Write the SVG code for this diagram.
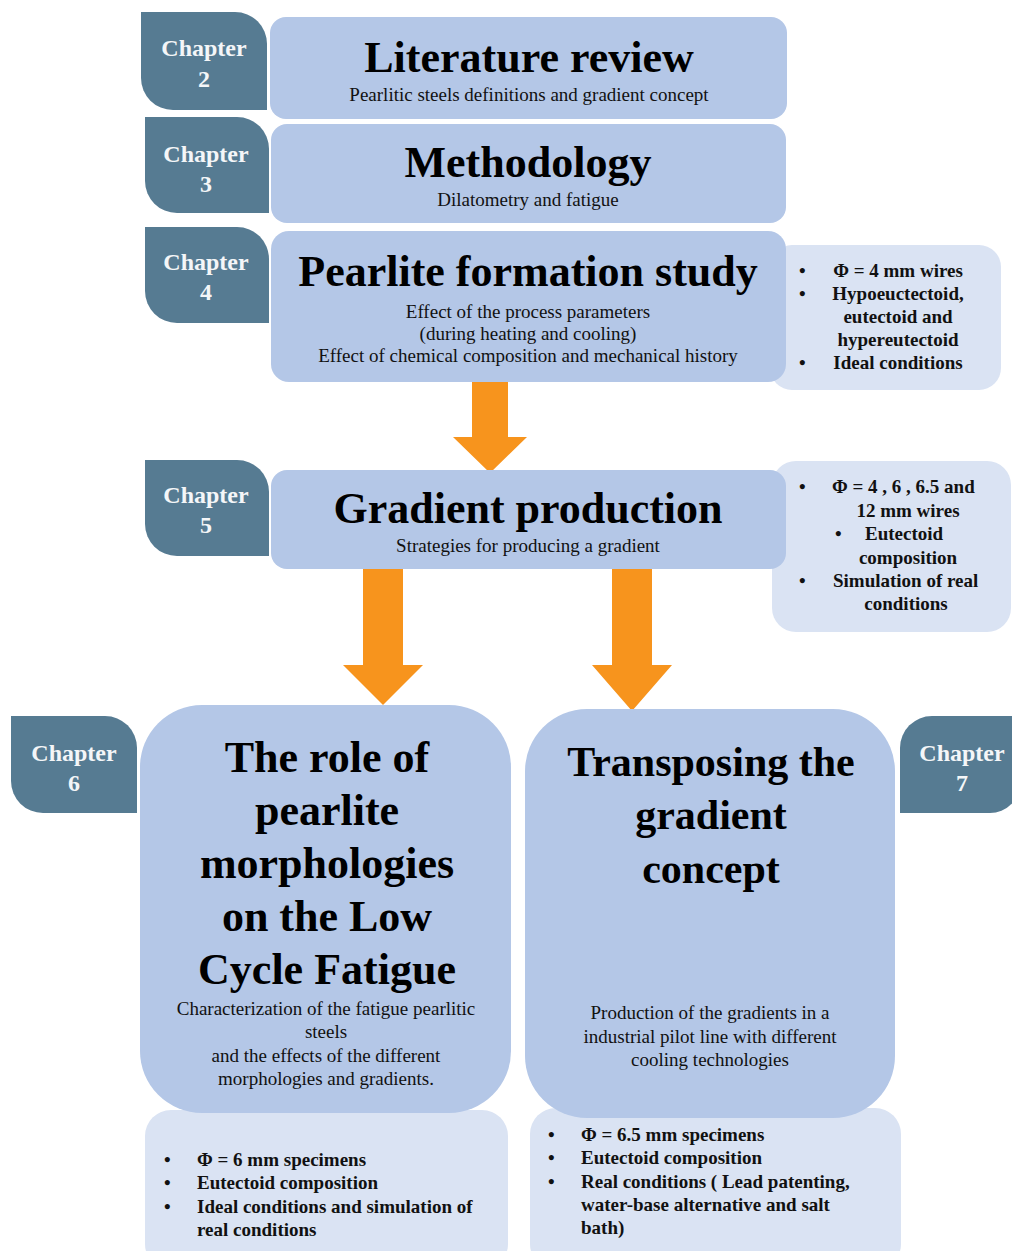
<svg xmlns="http://www.w3.org/2000/svg" width="1012" height="1251" viewBox="0 0 1012 1251">
<style>
.tab{fill:#567B92}
.main{fill:#B4C7E7}
.side{fill:#DAE3F3}
.arrow{fill:#F7941D}
.ch{font-family:"Liberation Serif",serif;font-weight:bold;font-size:24px;fill:#F4F6F8;text-anchor:middle}
.title{font-family:"Liberation Serif",serif;font-weight:bold;font-size:44px;fill:#000;text-anchor:middle}
.sub{font-family:"Liberation Serif",serif;font-size:19px;fill:#111;text-anchor:middle}
.bl{font-family:"Liberation Serif",serif;font-weight:bold;font-size:19px;fill:#111}
.blc{font-family:"Liberation Serif",serif;font-weight:bold;font-size:19px;fill:#111;text-anchor:middle}
</style>
<rect width="1012" height="1251" fill="#FFFFFF"/>

<g id="side-ch4">
<rect class="side" x="770" y="245" width="231" height="145" rx="22"/>
<text class="bl" x="799" y="277">•</text>
<text class="blc" x="898" y="277">Φ = 4 mm wires</text>
<text class="bl" x="799" y="300">•</text>
<text class="blc" x="898" y="300">Hypoeuctectoid,</text>
<text class="blc" x="898" y="323">eutectoid and</text>
<text class="blc" x="898" y="346">hypereutectoid</text>
<text class="bl" x="799" y="369">•</text>
<text class="blc" x="898" y="369">Ideal conditions</text>
</g>

<g id="side-ch5">
<rect class="side" x="772" y="461" width="239" height="171" rx="24"/>
<text class="bl" x="799" y="493">•</text>
<text class="bl" x="832" y="493">Φ = 4 , 6 , 6.5 and</text>
<text class="blc" x="908" y="517">12 mm wires</text>
<text class="bl" x="835" y="540">•</text>
<text class="bl" x="865" y="540">Eutectoid</text>
<text class="blc" x="908" y="564">composition</text>
<text class="bl" x="799" y="587">•</text>
<text class="bl" x="833" y="587">Simulation of real</text>
<text class="blc" x="906" y="610">conditions</text>
</g>

<g id="side-ch6">
<rect class="side" x="145" y="1110" width="363" height="160" rx="26"/>
<text class="bl" x="164" y="1166">•</text>
<text class="bl" x="197" y="1166">Φ = 6 mm specimens</text>
<text class="bl" x="164" y="1189">•</text>
<text class="bl" x="197" y="1189">Eutectoid composition</text>
<text class="bl" x="164" y="1213">•</text>
<text class="bl" x="197" y="1213">Ideal conditions and simulation of</text>
<text class="bl" x="197" y="1236">real conditions</text>
</g>

<g id="side-ch7">
<rect class="side" x="530" y="1108" width="371" height="162" rx="26"/>
<text class="bl" x="548" y="1141">•</text>
<text class="bl" x="581" y="1141">Φ = 6.5 mm specimens</text>
<text class="bl" x="548" y="1164">•</text>
<text class="bl" x="581" y="1164">Eutectoid composition</text>
<text class="bl" x="548" y="1188">•</text>
<text class="bl" x="581" y="1188">Real conditions ( Lead patenting,</text>
<text class="bl" x="581" y="1211">water-base alternative and salt</text>
<text class="bl" x="581" y="1234">bath)</text>
</g>

<g id="connectors">
<polygon class="arrow" points="472,382 508,382 508,437 527,437 490,473 453,437 472,437"/>
<polygon class="arrow" points="363,567 403,567 403,665 423,665 383,705 343,665 363,665"/>
<polygon class="arrow" points="612,567 652,567 652,665 672,665 632,711 592,665 612,665"/>
</g>

<g id="ch2">
<path class="tab" d="M141,12 H235 A32,32 0 0 1 267,44 V110 H173 A32,32 0 0 1 141,78 Z"/>
<text class="ch" x="204" y="56">Chapter</text>
<text class="ch" x="204" y="87">2</text>
</g>
<g id="literature-review">
<rect class="main" x="270" y="17" width="517" height="102" rx="16"/>
<text class="title" x="529" y="72">Literature review</text>
<text class="sub" x="529" y="101">Pearlitic steels definitions and gradient concept</text>
</g>

<g id="ch3">
<path class="tab" d="M145,117 H237 A32,32 0 0 1 269,149 V213 H177 A32,32 0 0 1 145,181 Z"/>
<text class="ch" x="206" y="162">Chapter</text>
<text class="ch" x="206" y="192">3</text>
</g>
<g id="methodology">
<rect class="main" x="271" y="124" width="515" height="99" rx="16"/>
<text class="title" x="528" y="177">Methodology</text>
<text class="sub" x="528" y="206">Dilatometry and fatigue</text>
</g>

<g id="ch4">
<path class="tab" d="M145,227 H237 A32,32 0 0 1 269,259 V323 H177 A32,32 0 0 1 145,291 Z"/>
<text class="ch" x="206" y="270">Chapter</text>
<text class="ch" x="206" y="300">4</text>
</g>
<g id="pearlite-formation">
<rect class="main" x="271" y="231" width="515" height="151" rx="18"/>
<text class="title" x="528" y="286">Pearlite formation study</text>
<text class="sub" x="528" y="318">Effect of the process parameters</text>
<text class="sub" x="528" y="340">(during heating and cooling)</text>
<text class="sub" x="528" y="362">Effect of chemical composition and mechanical history</text>
</g>

<g id="ch5">
<path class="tab" d="M145,460 H237 A32,32 0 0 1 269,492 V556 H177 A32,32 0 0 1 145,524 Z"/>
<text class="ch" x="206" y="503">Chapter</text>
<text class="ch" x="206" y="533">5</text>
</g>
<g id="gradient-production">
<rect class="main" x="271" y="470" width="515" height="99" rx="16"/>
<text class="title" x="528" y="523">Gradient production</text>
<text class="sub" x="528" y="552">Strategies for producing a gradient</text>
</g>

<g id="ch6">
<path class="tab" d="M11,716 H105 A32,32 0 0 1 137,748 V813 H43 A32,32 0 0 1 11,781 Z"/>
<text class="ch" x="74" y="761">Chapter</text>
<text class="ch" x="74" y="791">6</text>
</g>
<g id="role-of-pearlite">
<rect class="main" x="140" y="705" width="371" height="408" rx="62"/>
<text class="title" x="327" y="772">The role of</text>
<text class="title" x="327" y="825">pearlite</text>
<text class="title" x="327" y="878">morphologies</text>
<text class="title" x="327" y="931">on the Low</text>
<text class="title" x="327" y="984">Cycle Fatigue</text>
<text class="sub" x="326" y="1015">Characterization of the fatigue pearlitic</text>
<text class="sub" x="326" y="1038">steels</text>
<text class="sub" x="326" y="1062">and the effects of the different</text>
<text class="sub" x="326" y="1085">morphologies and gradients.</text>
</g>

<g id="ch7">
<path class="tab" d="M932,716 H1020 V783 A30,30 0 0 1 990,813 H900 V748 A32,32 0 0 1 932,716 Z"/>
<text class="ch" x="962" y="761">Chapter</text>
<text class="ch" x="962" y="791">7</text>
</g>
<g id="transposing">
<rect class="main" x="525" y="709" width="370" height="409" rx="62"/>
<text class="title" x="711" y="776" style="font-size:42px">Transposing the</text>
<text class="title" x="711" y="829" style="font-size:42px">gradient</text>
<text class="title" x="711" y="883" style="font-size:42px">concept</text>
<text class="sub" x="710" y="1019">Production of the gradients in a</text>
<text class="sub" x="710" y="1043">industrial pilot line with different</text>
<text class="sub" x="710" y="1066">cooling technologies</text>
</g>
</svg>
